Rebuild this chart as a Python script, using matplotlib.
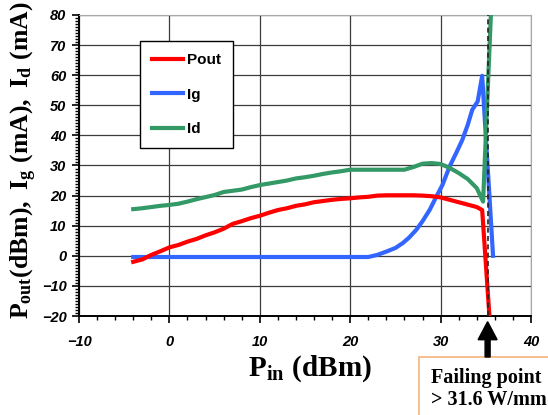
import matplotlib
matplotlib.use("Agg")
from matplotlib import pyplot as plt
from matplotlib import patches as mpatches
from matplotlib.transforms import IdentityTransform
from matplotlib.ticker import MultipleLocator

# Pout (dBm) vs Pin (dBm)
pout_x = [-4, -3, -2, -1, 0, 1, 2, 3, 4, 5, 6, 7, 8, 9, 10, 11, 12, 13, 14, 15,
          16, 17, 18, 19, 20, 21, 22, 23, 24, 25, 26, 27, 28, 29, 30, 31, 32,
          33, 34, 34.6, 35.4]
pout_y = [-2.0, -1.2, 0.3, 1.5, 2.8, 3.6, 4.7, 5.6, 6.8, 7.8, 9.0, 10.6, 11.5,
          12.5, 13.3, 14.3, 15.2, 15.8, 16.6, 17.1, 17.8, 18.2, 18.6, 18.9,
          19.1, 19.4, 19.6, 20.0, 20.1, 20.1, 20.1, 20.1, 20.0, 19.8, 19.4,
          18.6, 17.8, 17.0, 16.2, 15.2, -20.0]

# Ig (mA)
ig_x = [-4, 22, 23, 24, 25, 25.8, 26.5, 27.3, 28, 28.8, 29.5, 30.2, 31, 31.7,
        32.4, 33, 33.5, 34.1, 34.6, 35.8]
ig_y = [-0.4, -0.4, 0.3, 1.4, 2.6, 4.2, 6.0, 8.6, 11.5, 15.3, 19.5, 23.5, 29.7,
        34.0, 38.5, 43.5, 48.5, 51.3, 59.8, 0.0]

# Id (mA)
id_x = [-4, -3, -2, -1, 0, 1, 2, 3, 4, 5, 6, 7, 8, 9, 10, 11, 12, 13, 14, 15,
        16, 17, 18, 19, 20, 21, 22, 23, 24, 25, 26, 27, 28, 29, 30, 31, 32, 33,
        34, 34.7, 35.7]
id_y = [15.5, 15.8, 16.2, 16.6, 16.9, 17.3, 18.0, 18.8, 19.5, 20.2, 21.2, 21.6,
        22.0, 22.8, 23.5, 24.0, 24.5, 25.0, 25.7, 26.1, 26.6, 27.2, 27.7, 28.1,
        28.6, 28.6, 28.6, 28.6, 28.6, 28.6, 28.6, 29.5, 30.6, 30.8, 30.5, 29.2,
        27.5, 25.5, 22.5, 18.0, 90.0]

fail_x = 35.2
note_lines = ["Failing point", "> 31.6 W/mm"]

# tick labels: bold italic Arial-like
plt.rcParams["font.family"] = "Liberation Sans"
plt.rcParams["font.weight"] = "bold"
plt.rcParams["font.style"] = "italic"
plt.rcParams["mathtext.fontset"] = "custom"
serif_bold = "Liberation Serif:style=normal:weight=bold"
plt.rcParams["mathtext.rm"] = serif_bold
plt.rcParams["mathtext.it"] = serif_bold
plt.rcParams["mathtext.bf"] = serif_bold

W, H = 548, 415
fig = plt.figure(figsize=(W / 100, H / 100), dpi=100)
ax = fig.add_axes([79 / W, 1 - 316 / H, (531 - 79) / W, (316 - 15) / H])

ax.plot(pout_x, pout_y, color="#ff0000", lw=3, label="Pout", zorder=4)
ax.plot(ig_x, ig_y, color="#3366ff", lw=3, label="Ig", zorder=3)
ax.plot(id_x, id_y, color="#339966", lw=3, label="Id", zorder=3)
ax.axvline(fail_x, color="#222222", lw=1.2, ls=(0, (3, 2)), zorder=5)

ax.set_xlim(-10, 40)
ax.set_ylim(-20, 80)
ax.xaxis.set_major_locator(MultipleLocator(10))
ax.xaxis.set_minor_locator(MultipleLocator(2))
ax.yaxis.set_major_locator(MultipleLocator(10))
ax.yaxis.set_minor_locator(MultipleLocator(1))
ax.grid(True, which="major", color="#3c3c3c", lw=0.9)
ax.tick_params(which="major", direction="out", length=5, width=1.2,
               color="black", labelsize=10.5)
ax.tick_params(which="minor", direction="out", length=3, width=1, color="black")
ax.tick_params(axis="x", pad=9)
ax.tick_params(axis="y", pad=4)

for side in ("top", "right"):
    ax.spines[side].set_color("#a8a8a8")
for side in ("left", "bottom"):
    ax.spines[side].set_color("black")
    ax.spines[side].set_linewidth(1.4)

ax.set_ylabel(r"$\mathrm{P_{out}(dBm),\ I_{g}\ (mA),\ I_{d}\ (mA)}$",
              fontsize=18.5)
ax.yaxis.set_label_coords(-0.088, 0.518)
ax.set_xlabel(r"$\mathrm{P_{in}\ (dBm)}$", fontsize=21, labelpad=1)
ax.xaxis.set_label_coords(0.512, -0.125)

leg = ax.legend(loc="upper left", bbox_to_anchor=(140, H - 40.7),
                bbox_transform=IdentityTransform(), frameon=True, fancybox=False,
                edgecolor="black", labelspacing=1.35, handlelength=2.0,
                handletextpad=0.25, borderpad=0.8, borderaxespad=0,
                prop={"family": "Liberation Sans", "weight": "bold",
                      "style": "normal", "size": 11})
leg.get_frame().set_linewidth(1.0)
leg.get_frame().set_alpha(1)

# note box and arrow
fig.add_artist(mpatches.Rectangle((419, -20), 200, H - 357 + 20,
                                  transform=IdentityTransform(), facecolor="white",
                                  edgecolor="#f5b57a", lw=1.2))
for line, base in zip(note_lines, (383, 405)):
    fig.text(431 / W, 1 - base / H, line, family="Liberation Serif",
             weight="bold", style="normal", fontsize=14.5, va="baseline",
             ha="left")
ax_x = ax.transData.transform((fail_x, 0))[0]
fig.add_artist(mpatches.FancyArrow(ax_x, H - 357, 0, 357 - 321.7, width=5,
                                   head_width=19, head_length=18,
                                   length_includes_head=True, color="black",
                                   transform=IdentityTransform()))

fig.savefig("out.png", dpi=100)
